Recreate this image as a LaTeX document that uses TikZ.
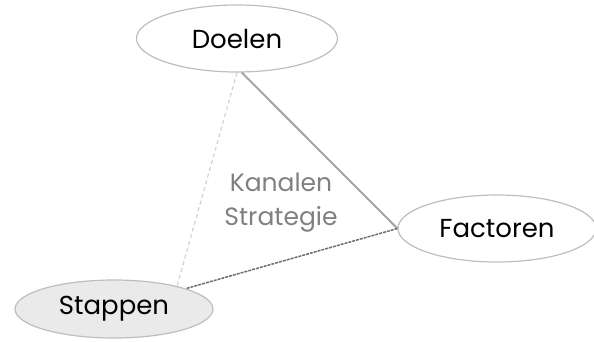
\documentclass[tikz,border=0pt]{standalone}
\usepackage{fontspec}
\setmainfont{Poppins}
\usetikzlibrary{shapes.geometric}
\definecolor{edgegray}{RGB}{190,190,190}
\definecolor{fillgray}{RGB}{234,234,234}
\definecolor{solidgray}{RGB}{165,165,165}
\definecolor{dashgray}{RGB}{110,110,110}
\definecolor{dotgray}{RGB}{210,210,210}
\definecolor{labelgray}{RGB}{128,128,128}
\tikzset{
  oval/.style={ellipse, draw=edgegray, line width=1.2pt, inner sep=0pt, fill=white,
    font=\fontsize{26}{28}\selectfont, text=black},
  solidlink/.style={draw=solidgray, line width=2pt},
  dashlink/.style={draw=dashgray, line width=1.5pt, dash pattern=on 3pt off 1pt},
  dotlink/.style={draw=dotgray, line width=1.2pt, dash pattern=on 4pt off 3pt},
  midlabel/.style={align=center, text=labelgray, font=\fontsize{25}{34}\selectfont}
}
\begin{document}
\begin{tikzpicture}[x=1pt,y=-1pt]
\useasboundingbox (0,0) rectangle (594,341);
\node[oval, minimum width=201pt, minimum height=67pt] (D) at (237,38.5) {Doelen};
\node[oval, minimum width=198pt, minimum height=67pt] (F) at (497,228.5) {Factoren};
\node[oval, fill=fillgray, minimum width=198pt, minimum height=58pt] (S) at (114,309) {Stappen};
\node[midlabel] (K) at (281,203) {Kanalen\\Strategie};
\draw[dotlink] (D.south) -- (S.20);
\draw[solidlink] (D.-82) -- (F.west);
\draw[dashlink] (F.west) -- (S);
\end{tikzpicture}
\end{document}
